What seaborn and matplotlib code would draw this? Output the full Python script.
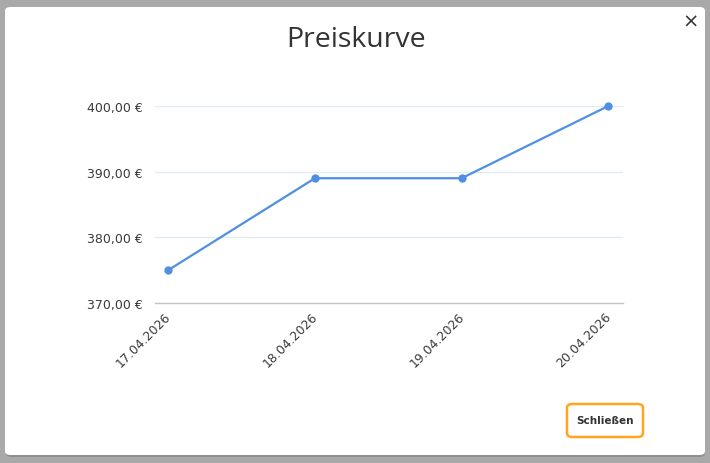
import matplotlib
matplotlib.use("Agg")
import matplotlib.pyplot as plt
import matplotlib.transforms as mtransforms
import seaborn as sns
from matplotlib.patches import FancyBboxPatch

# Preiskurve data
dates = ['17.04.2026', '18.04.2026', '19.04.2026', '20.04.2026']
prices = [375, 389, 389, 400]
y_ticks = [370, 380, 390, 400]
y_labels = ['370,00 €', '380,00 €', '390,00 €', '400,00 €']

sns.set_style('white')
plt.rcParams['font.family'] = ['DejaVu Sans']

W, H = 710, 464
fig = plt.figure(figsize=(7.1, 4.64), dpi=100)
fig.patch.set_facecolor('#a9a9a9')

# modal panel
shadow = FancyBboxPatch((6 / W, 1 - 458 / H), 699 / W, 449 / H,
                        boxstyle='round,pad=0,rounding_size=0.008',
                        transform=fig.transFigure, facecolor='#8f8f8f',
                        edgecolor='none', zorder=-3)
panel = FancyBboxPatch((5 / W, 1 - 456 / H), 700 / W, 448 / H,
                       boxstyle='round,pad=0,rounding_size=0.008',
                       transform=fig.transFigure, facecolor='white',
                       edgecolor='none', zorder=-2)
fig.patches.extend([shadow, panel])

ax = fig.add_axes([155 / W, 1 - 304 / H, 468 / W, 197 / H])
ax.set_zorder(1)
ax.set_facecolor('none')

sns.lineplot(x=dates, y=prices, ax=ax, color='#4f90e0', linewidth=1.6,
             marker='o', markersize=6, markeredgewidth=0)
for ln in ax.lines:
    ln.set_clip_on(False)

ax.set_xlim(-0.09, 3.1)
ax.set_ylim(370, 400)
ax.set_yticks(y_ticks)
ax.set_yticklabels(y_labels)
ax.set_xlabel('')
ax.set_ylabel('')
ax.grid(axis='y', color='#e3ebf2', linewidth=1)
ax.grid(axis='x', visible=False)
for s in ['top', 'right', 'left']:
    ax.spines[s].set_visible(False)
ax.spines['bottom'].set_color('#c4c4c4')
ax.spines['bottom'].set_linewidth(1)
ax.tick_params(axis='y', length=0, pad=9, labelsize=9, labelcolor='#3a3a3a')
ax.tick_params(axis='x', length=0, pad=5, labelsize=9, labelcolor='#3a3a3a')
shift = mtransforms.ScaledTranslation(-4 / 100, 0, fig.dpi_scale_trans)
for lbl in ax.get_xticklabels():
    lbl.set_rotation(45)
    lbl.set_ha('right')
    lbl.set_rotation_mode('anchor')
    lbl.set_transform(lbl.get_transform() + shift)

fig.text(356 / W, 1 - 40 / H, 'Preiskurve', ha='center', va='center',
         fontsize=20.5, color='#333333', family='Open Sans')
fig.text(691 / W, 1 - 22 / H, '×', ha='center', va='center',
         fontsize=14, color='#333333')

# close button
btn = FancyBboxPatch((567 / W, 1 - 438 / H), 76 / W, 33 / H,
                     boxstyle='round,pad=0,rounding_size=0.008',
                     transform=fig.transFigure, facecolor='white',
                     edgecolor='#ffa51f', linewidth=1.8, zorder=2)
fig.patches.append(btn)
fig.text(605 / W, 1 - 421.5 / H, 'Schließen', ha='center', va='center',
         fontsize=7.5, fontweight='bold', color='#333333', zorder=3)

fig.savefig('out.png', dpi=100, facecolor=fig.get_facecolor())
